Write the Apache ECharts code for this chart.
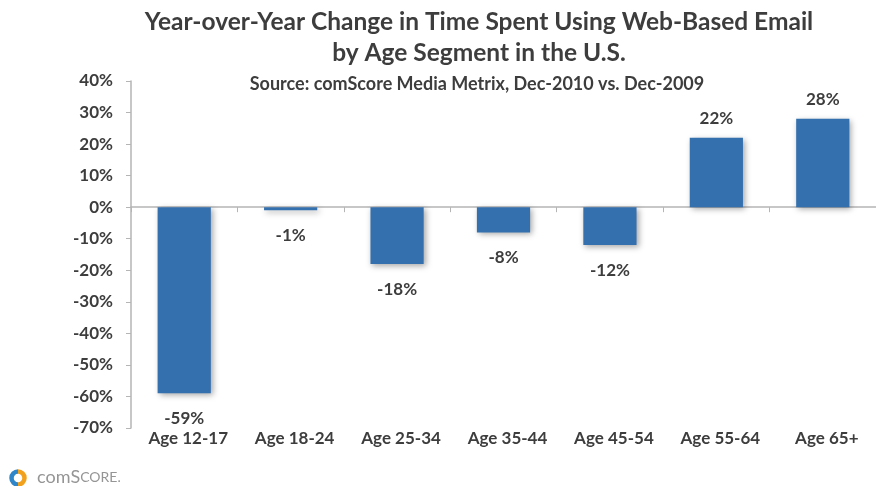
<!DOCTYPE html>
<html>
<head>
<meta charset="utf-8">
<script src="https://cdn.jsdelivr.net/npm/echarts@6/dist/echarts.min.js"></script>
<style>html,body{margin:0;padding:0;background:#fff}#c{width:876px;height:486px}</style>
</head>
<body>
<div id="c"></div>
<script>
var categories = ['Age 12-17', 'Age 18-24', 'Age 25-34', 'Age 35-44', 'Age 45-54', 'Age 55-64', 'Age 65+'];
var values = [-59, -1, -18, -8, -12, 22, 28];
var titleText = 'Year-over-Year Change in Time Spent Using Web-Based Email\nby Age Segment in the U.S.';
var subtitleText = 'Source: comScore Media Metrix, Dec-2010 vs. Dec-2009';

var FONT = 'Lato, "Open Sans", sans-serif';
var TXT = '#3d3d3d';
var chart = echarts.init(document.getElementById('c'));
chart.setOption({
  animation: false,
  backgroundColor: '#fff',
  title: [{
    text: titleText,
    left: 474, textAlign: 'center', top: 2,
    textStyle: { fontFamily: FONT, fontSize: 24.5, fontWeight: 'bold', color: TXT, lineHeight: 31 }
  }, {
    text: subtitleText,
    left: 472, textAlign: 'center', top: 70,
    textStyle: { fontFamily: FONT, fontSize: 18, fontWeight: 'bold', color: TXT }
  }],
  grid: { left: 131, right: -5, top: 81, bottom: 58, containLabel: false },
  xAxis: [{
    type: 'category', data: categories, position: 'bottom',
    axisLine: { show: false, onZero: false }, axisTick: { show: false },
    axisLabel: { fontFamily: FONT, fontSize: 17, fontWeight: 'bold', color: TXT, margin: 2, padding: [0, 0, 0, 8] }
  }, {
    type: 'category', data: categories, position: 'bottom',
    axisLine: { show: true, onZero: true, lineStyle: { color: '#b5b5b5', width: 1.5 } },
    axisTick: { show: true, length: 5, lineStyle: { color: '#b5b5b5' } },
    axisLabel: { show: false }
  }],
  yAxis: {
    type: 'value', min: -70, max: 40, interval: 10,
    axisLine: { show: true, lineStyle: { color: '#b5b5b5', width: 1.5 } },
    axisTick: { show: true, length: 5, lineStyle: { color: '#b5b5b5' } },
    splitLine: { show: false },
    axisLabel: { formatter: '{value}%', fontFamily: FONT, fontSize: 17, fontWeight: 'bold', color: TXT, margin: 18 }
  },
  series: [{
    type: 'bar', xAxisIndex: 0,
    data: values.map(function (v) {
      return { value: v, label: { position: v >= 0 ? 'top' : 'bottom', distance: v >= 0 ? 11 : 17 } };
    }),
    barWidth: '50%',
    itemStyle: { color: '#3570ae', shadowColor: 'rgba(0,0,0,0.35)', shadowBlur: 6, shadowOffsetX: 2, shadowOffsetY: 2 },
    label: { show: true, formatter: '{c}%', fontFamily: FONT, fontSize: 17, fontWeight: 'bold', color: TXT }
  }],
  graphic: [
    { type: 'arc', shape: { cx: 18, cy: 478, r: 6.5, startAngle: Math.PI * 0.5, endAngle: Math.PI * 1.5 }, style: { stroke: '#2f86c8', lineWidth: 4.5, fill: null } },
    { type: 'arc', shape: { cx: 18, cy: 478, r: 6.5, startAngle: Math.PI * 1.5, endAngle: Math.PI * 2.5 }, style: { stroke: '#f2a11d', lineWidth: 4.5, fill: null } },
    { type: 'text', left: 37, top: 468, style: {
      text: '{a|com}{b|S}{c|CORE.}',
      rich: {
        a: { fontFamily: FONT, fontSize: 18, fill: '#959595' },
        b: { fontFamily: FONT, fontSize: 18, fill: '#959595' },
        c: { fontFamily: FONT, fontSize: 14, fill: '#959595' }
      }
    } }
  ]
});
</script>
</body>
</html>
